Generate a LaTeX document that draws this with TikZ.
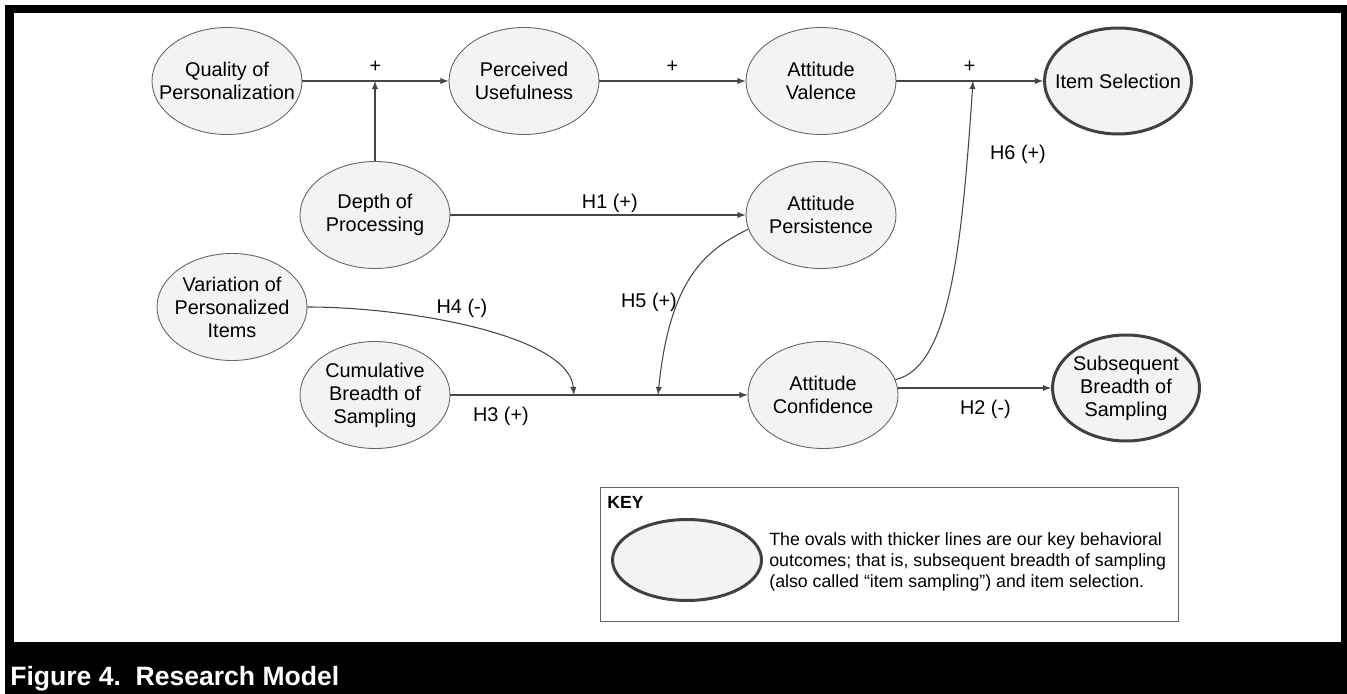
\documentclass[tikz,border=0pt]{standalone}
\usepackage{fontspec}
\setmainfont{Liberation Sans}
\usetikzlibrary{shapes.geometric}
\definecolor{ovalfill}{RGB}{243,243,243}
\definecolor{ovalline}{RGB}{100,100,100}
\definecolor{boldline}{RGB}{64,64,64}
\definecolor{arrowgray}{RGB}{70,70,70}
\tikzset{
  nodetext/.style={font=\fontsize{11.3}{13.1}\selectfont, align=center},
  oval/.style={ellipse, draw=ovalline, fill=ovalfill, line width=0.5pt, minimum width=30mm, minimum height=21.4mm, inner sep=0pt},
  construct/.style={oval, label={[nodetext]center:#1}},
  outcome/.style={construct={#1}, draw=boldline, line width=1.7pt, minimum width=29.4mm, minimum height=21.2mm},
  link/.style={->, draw=arrowgray, line width=0.6pt},
  lbl/.style={font=\fontsize{11.3}{13.1}\selectfont, inner sep=0pt},
}
\begin{document}
\begin{tikzpicture}[x=0.2mm, y=-0.2mm, >=latex]
          \useasboundingbox (0,0) rectangle (1347,694);
          \fill[black] (5,5) rectangle (1347,694);
          \fill[white] (14,13) rectangle (1341,642);
          \node[anchor=base west, inner sep=0pt, text=white, font=\fontsize{15.1}{17}\selectfont\bfseries] (caption) at (10,685) {Figure 4.\ \ Research Model};
          \node[construct={Quality of\\Personalization}] (qop) at (227,81) {};
          \node[construct={Perceived\\Usefulness}, right of=qop, node distance=59.4mm] (pu) {};
          \node[construct={Attitude\\Valence}, right of=pu, node distance=59.4mm] (av) {};
          \node[outcome={Item Selection}, right of=av, node distance=59.4mm] (is) {};
          \node[construct={Depth of\\Processing}] (dop) at (375,215) {};
          \node[construct={Attitude\\Persistence}, right of=dop, node distance=89.2mm] (ap) {};
          \node[construct={Variation of\\Personalized\\Items}] (vpi) at (232,307) {};
          \node[construct={Cumulative\\Breadth of\\Sampling}] (cbs) at (375,395) {};
          \node[construct={Attitude\\Confidence}, right of=cbs, node distance=89.6mm] (ac) {};
          \node[outcome={Subsequent\\Breadth of\\Sampling}] (sbs) at (1126,388) {};
          \coordinate (m1) at (dop |- qop);
          \coordinate (m4) at (574,395);
          \coordinate (m5) at (658,395);
          \coordinate (m6) at (973,81);
          \draw[link] (qop) -- node[lbl, above=1.6mm] {+} (pu);
          \draw[link] (pu) -- node[lbl, above=1.6mm] {+} (av);
          \draw[link] (av) -- node[lbl, above=1.6mm] {+} (is);
          \draw[link] (dop) -- (m1);
          \draw[link] (dop) -- node[lbl, above=0.4mm, pos=0.54] {H1 (+)} (ap);
          \draw[link] (cbs) -- node[lbl, below=2.35mm, pos=0.17] {H3 (+)} (ac);
          \draw[link] (ac.east |- sbs) -- node[lbl, below=2.35mm, pos=0.57] {H2 (-)} (sbs);
          \draw[link] (vpi.east) .. controls +(100,0) and +(-5,-60) .. (m4);
          \draw[link] (ap.191) .. controls +(-40,20) and +(12,-120) .. (m5);
          \draw[link] (ac.12) .. controls +(55,-12) and +(-11,163) .. (m6);
          \node[lbl] (h4) at (462,308) {H4 (-)};
          \node[lbl] (h5) at (649,302) {H5 (+)};
          \node[lbl] (h6) at (1018,154) {H6 (+)};
          \draw[ovalline, line width=0.5pt] (600,487) rectangle (1178,621);
          \node[anchor=north west, inner sep=0pt, font=\fontsize{10}{11}\selectfont\bfseries] (keytitle) at (607,496) {KEY};
          \node[oval, draw=boldline, line width=1.7pt, minimum width=29.8mm, minimum height=16.2mm] (keyoval) at (687,560) {};
          \node[anchor=west, align=left, inner sep=0pt, font=\fontsize{10.1}{12}\selectfont] (keytext) at (769,562) {The ovals with thicker lines are our key behavioral\\outcomes; that is, subsequent breadth of sampling\\(also called “item sampling”) and item selection.};
        \end{tikzpicture}
\end{document}
